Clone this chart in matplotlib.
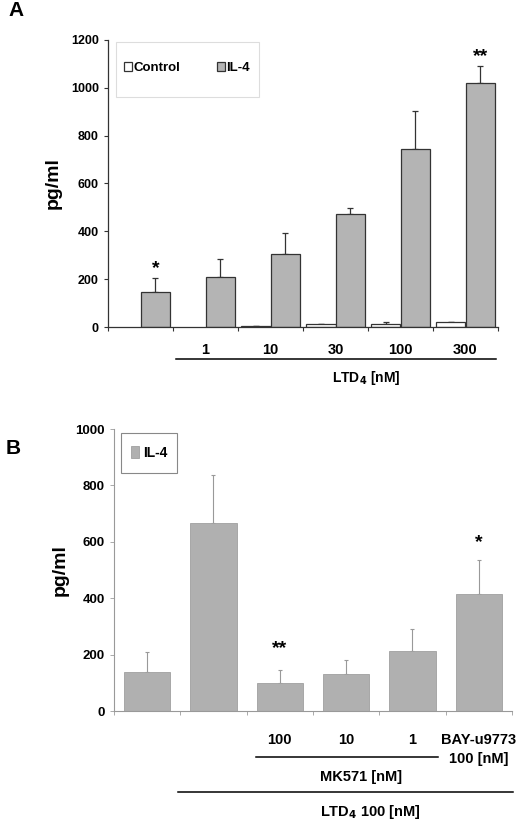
import numpy as np
import matplotlib.pyplot as plt
import matplotlib.transforms as mtransforms
from matplotlib.patches import Rectangle, Patch
from matplotlib.lines import Line2D

plt.rcParams['font.family'] = ['Liberation Sans', 'DejaVu Sans']
plt.rcParams['font.weight'] = 'bold'

# panel A data
a_doses = ['', '1', '10', '30', '100', '300']
a_control = [0, 0, 4, 12, 14, 20]
a_control_err = [0, 0, 2, 2, 5, 0]
a_il4 = [148, 207, 305, 473, 743, 1022]
a_il4_err = [58, 76, 88, 25, 162, 68]
a_stars = {0: '*', 5: '**'}

# panel B data
b_labels = ['', '', '100', '10', '1', 'BAY-u9773\n100 [nM]']
b_il4 = [137, 668, 98, 130, 213, 416]
b_il4_err = [72, 170, 49, 51, 79, 118]
b_stars = {2: '**', 5: '*'}

W, H = 520, 822
fig = plt.figure(figsize=(W / 100, H / 100), dpi=100)


def px_axes(x0, y0, x1, y1):
    return fig.add_axes([x0 / W, 1 - y1 / H, (x1 - x0) / W, (y1 - y0) / H])


def fy(y):
    return 1 - y / H


bar_gray = '#b4b4b4'

# ---------------- panel A ----------------
axA = px_axes(108, 40, 498, 327)
n = len(a_il4)
x = np.arange(n) + 0.5
w = 0.46
ctrl_lw = [0.9 if v > 0 else 0 for v in a_control]
axA.bar(x - w / 2, a_control, w, color='white', edgecolor='#333333',
        linewidth=ctrl_lw, zorder=2)
axA.bar(x + w / 2, a_il4, w, color=bar_gray, edgecolor='#333333', linewidth=0.9, zorder=2)
axA.errorbar(x + w / 2, a_il4, yerr=[np.zeros(n), a_il4_err], fmt='none',
             ecolor='#333333', elinewidth=0.9, capsize=2.5, capthick=0.9, zorder=1)
axA.errorbar(x[2:] - w / 2, a_control[2:], yerr=[np.zeros(n - 2), a_control_err[2:]],
             fmt='none', ecolor='#333333', elinewidth=0.9, capsize=2, capthick=0.9, zorder=1)
axA.set_xlim(0, n)
axA.set_ylim(0, 1200)
axA.set_yticks(np.arange(0, 1201, 200))
axA.set_xticks(np.arange(n + 1))
axA.set_xticklabels([])
axA.tick_params(axis='both', direction='out', length=3, width=0.8, color='#333333',
                labelsize=9)
for s in ['top', 'right']:
    axA.spines[s].set_visible(False)
for s in ['left', 'bottom']:
    axA.spines[s].set_color('#333333')
    axA.spines[s].set_linewidth(0.9)
axA.set_ylabel('pg/ml', fontsize=14, fontweight='bold', labelpad=7)
for i, s in a_stars.items():
    axA.text(x[i] + w / 2, a_il4[i] + a_il4_err[i] + 40, s, ha='center', va='center',
             fontsize=14, fontweight='bold')

trA = mtransforms.blended_transform_factory(axA.transData, fig.transFigure)
for xi, lab in zip(x, a_doses):
    axA.text(xi, fy(350), lab, transform=trA, ha='center', va='center', fontsize=10.5,
             fontweight='bold')
fig.add_artist(Line2D([1.05, 5.97], [fy(359), fy(359)], transform=trA, color='black',
                      linewidth=1.1))
axA.text(3.98, fy(378), 'LTD$_\\mathbf{4}$ [nM]', transform=trA, ha='center', va='center',
         fontsize=10, fontweight='bold')

fig.add_artist(Rectangle((116 / W, fy(97)), 143 / W, 55 / H, transform=fig.transFigure,
                         facecolor='white', edgecolor='#dddddd', linewidth=0.8, zorder=1))
handlesA = [Patch(facecolor='white', edgecolor='#333333', linewidth=0.9),
            Patch(facecolor=bar_gray, edgecolor='#333333', linewidth=0.9)]
fig.legend(handlesA, ['Control', 'IL-4'], loc='center',
           bbox_to_anchor=(187 / W, fy(68)), bbox_transform=fig.transFigure,
           ncol=2, frameon=False, handlelength=0.6, handleheight=0.6, handletextpad=0.1,
           columnspacing=2.8, prop={'weight': 'bold', 'size': 9.5})

fig.text(8 / W, fy(11), 'A', fontsize=15, fontweight='bold', ha='left', va='center')

# ---------------- panel B ----------------
axB = px_axes(114, 429, 512, 711)
nb = len(b_il4)
xb = np.arange(nb) + 0.5
wb = 0.7
barsB = axB.bar(xb, b_il4, wb, color='#b0b0b0', edgecolor='#a0a0a0', linewidth=0.6,
                zorder=2)
axB.errorbar(xb, b_il4, yerr=[np.zeros(nb), b_il4_err], fmt='none', ecolor='#999999',
             elinewidth=0.8, capsize=1.5, capthick=0.8, zorder=1)
axB.set_xlim(0, nb)
axB.set_ylim(0, 1000)
axB.set_yticks(np.arange(0, 1001, 200))
axB.set_xticks(np.arange(nb + 1))
axB.set_xticklabels([])
axB.tick_params(axis='both', direction='out', length=3, width=0.7, color='#aaaaaa',
                labelsize=9.5)
for s in ['top', 'right']:
    axB.spines[s].set_visible(False)
for s in ['left', 'bottom']:
    axB.spines[s].set_color('#999999')
    axB.spines[s].set_linewidth(0.8)
axB.set_ylabel('pg/ml', fontsize=14, fontweight='bold', labelpad=5)
for i, s in b_stars.items():
    ytxt = 223 if s == '**' else 596
    axB.text(xb[i], ytxt, s, ha='center', va='center', fontsize=14, fontweight='bold')

trB = mtransforms.blended_transform_factory(axB.transData, fig.transFigure)
for xi, lab in zip(xb, b_labels):
    if '\n' in lab:
        top, bot = lab.split('\n')
        axB.text(xi, fy(740), top, transform=trB, ha='center', va='center', fontsize=10.5,
                 fontweight='bold')
        axB.text(xi, fy(759), bot, transform=trB, ha='center', va='center', fontsize=10.5,
                 fontweight='bold')
    else:
        axB.text(xi, fy(740), lab, transform=trB, ha='center', va='center', fontsize=10.5,
                 fontweight='bold')
fig.add_artist(Line2D([2.14, 4.88], [fy(757), fy(757)], transform=trB, color='black',
                      linewidth=1.1))
axB.text(3.73, fy(777), 'MK571 [nM]', transform=trB, ha='center', va='center',
         fontsize=10.5, fontweight='bold')
fig.add_artist(Line2D([0.96, 6.02], [fy(792), fy(792)], transform=trB, color='black',
                      linewidth=1.1))
axB.text(3.86, fy(812), 'LTD$_\\mathbf{4}$ 100 [nM]', transform=trB, ha='center',
         va='center', fontsize=10.5, fontweight='bold')

fig.add_artist(Rectangle((121 / W, fy(473)), 56 / W, 40 / H, transform=fig.transFigure,
                         facecolor='white', edgecolor='#888888', linewidth=0.8, zorder=1))
fig.legend([barsB], ['IL-4'], loc='center', bbox_to_anchor=(149 / W, fy(453)),
           bbox_transform=fig.transFigure, frameon=False, handlelength=0.6,
           handleheight=0.9, handletextpad=0.3, prop={'weight': 'bold', 'size': 10})

fig.text(6 / W, fy(448), 'B', fontsize=15, fontweight='bold', ha='left', va='center')

fig.savefig('out.png', dpi=100)
